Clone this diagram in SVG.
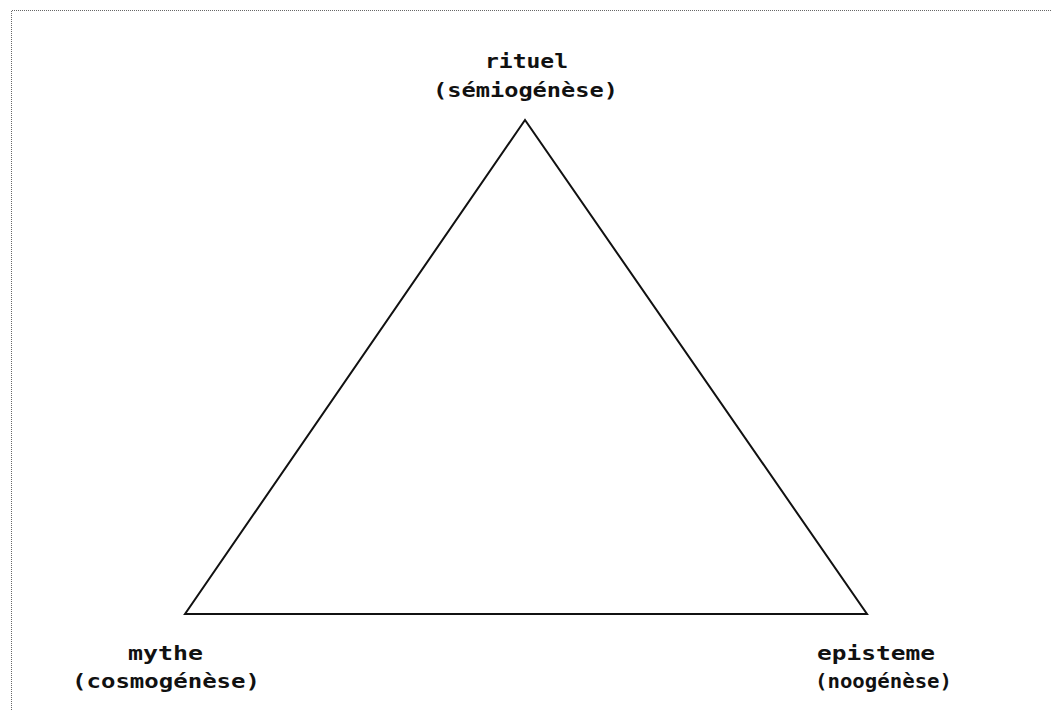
<svg xmlns="http://www.w3.org/2000/svg" width="1052" height="710" viewBox="0 0 1052 710">
<style>
.lbl{font-family:"DejaVu Sans Mono","Liberation Mono",monospace;font-weight:bold;font-size:20px;fill:#111}
.frame{fill:none;stroke:#666;stroke-width:1;stroke-dasharray:1 1}
.edge{fill:none;stroke:#111;stroke-width:2;stroke-linejoin:miter}
</style>
<rect width="1052" height="710" fill="#fff"/>
<polyline class="frame" points="11.5,710 11.5,10.5 1052,10.5"/>
<g id="connectors">
<polygon class="edge" points="525,120 185,614 867,614"/>
</g>
<g id="node-rituel">
<text class="lbl" x="485" y="68" textLength="83" lengthAdjust="spacingAndGlyphs">rituel</text>
<text class="lbl" x="433" y="97" textLength="185" lengthAdjust="spacingAndGlyphs">(sémiogénèse)</text>
</g>
<g id="node-mythe">
<text class="lbl" x="128" y="660" textLength="75" lengthAdjust="spacingAndGlyphs">mythe</text>
<text class="lbl" x="72" y="688" textLength="188" lengthAdjust="spacingAndGlyphs">(cosmogénèse)</text>
</g>
<g id="node-episteme">
<text class="lbl" x="817" y="660" textLength="118" lengthAdjust="spacingAndGlyphs">episteme</text>
<text class="lbl" x="815" y="688" textLength="137" lengthAdjust="spacingAndGlyphs">(noogénèse)</text>
</g>
</svg>
